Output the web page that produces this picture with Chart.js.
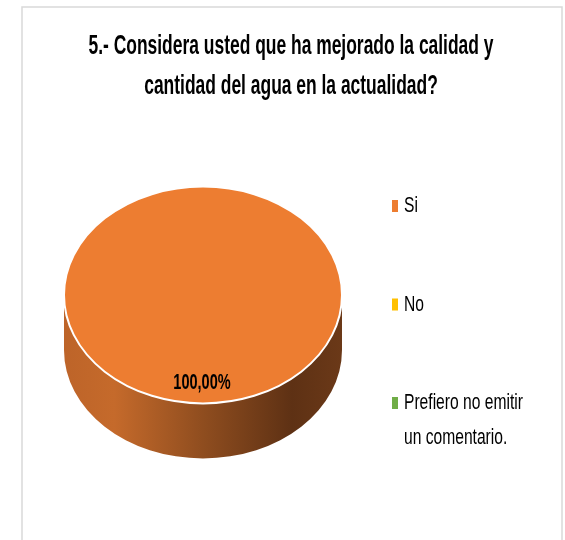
<!DOCTYPE html>
<html>
<head>
<meta charset="utf-8">
<script src="https://cdn.jsdelivr.net/npm/chart.js@4.4.1/dist/chart.umd.min.js"></script>
<style>
  html, body { margin: 0; padding: 0; background: #fff; }
  #wrap { width: 565px; height: 540px; }
</style>
</head>
<body>
<div id="wrap"><canvas id="pieChart" width="565" height="540"></canvas></div>
<script>
// data
const titleLines = ['5.- Considera usted que ha mejorado la calidad y', 'cantidad del agua en la actualidad?'];
const categories = ['Si', 'No', 'Prefiero no emitir un comentario.'];
const percentages = [100, 0, 0];
const sliceColors = ['#ED7D31', '#FFC000', '#70AD47'];

const tilt = 0.78;     // vertical squash of the pie (3d look)
const depth = 55;      // height of the pie side
const squeeze = 0.74;  // text in the picture is narrow
const narrowFont = '"Liberation Sans Narrow", "Liberation Sans", sans-serif';

function narrowText(ctx, text, x, y, font, align, sq) {
    sq = sq || squeeze;
    ctx.save();
    ctx.font = font;
    ctx.textBaseline = 'middle';
    ctx.textAlign = 'left';
    const w = ctx.measureText(text).width * sq;
    let x0 = x;
    if (align === 'center') x0 = x - w / 2;
    ctx.translate(x0, y);
    ctx.scale(sq, 1);
    ctx.fillText(text, 0, 0);
    ctx.restore();
    return w;
}

// frame + title
const framePlugin = {
    id: 'frame',
    beforeDraw(chart) {
        const ctx = chart.ctx;
        ctx.save();
        ctx.strokeStyle = '#d9d9d9';
        ctx.lineWidth = 1.5;
        ctx.strokeRect(22, 7, 540, 545);
        ctx.fillStyle = '#000';
        const font = 'bold 28px ' + narrowFont;
        ctx.font = font;
        // first line is about 405px wide in the picture
        const sq = 405 / ctx.measureText(titleLines[0]).width;
        titleLines.forEach((line, i) => {
            narrowText(ctx, line, 291, 46 + i * 40, font, 'center', sq);
        });
        ctx.restore();
    }
};

// side of the pie + squash of the top face
const pie3d = {
    id: 'pie3d',
    beforeDatasetsDraw(chart) {
        const ctx = chart.ctx;
        const arc = chart.getDatasetMeta(0).data[0];
        const cx = arc.x, cy = arc.y, rx = arc.outerRadius, ry = arc.outerRadius * tilt;
        ctx.save();
        const grad = ctx.createLinearGradient(cx - rx, 0, cx + rx, 0);
        grad.addColorStop(0, '#bd6429');
        grad.addColorStop(0.18, '#c56a2b');
        grad.addColorStop(0.5, '#8f4d1f');
        grad.addColorStop(0.82, '#5e3114');
        grad.addColorStop(1, '#6b3918');
        ctx.beginPath();
        ctx.moveTo(cx + rx, cy);
        ctx.lineTo(cx + rx, cy + depth);
        ctx.ellipse(cx, cy + depth, rx, ry, 0, 0, Math.PI, false);
        ctx.lineTo(cx - rx, cy);
        ctx.ellipse(cx, cy, rx, ry, 0, Math.PI, 0, true);
        ctx.closePath();
        ctx.fillStyle = grad;
        ctx.fill();
        ctx.restore();
        ctx.save();
        ctx.translate(0, cy);
        ctx.scale(1, tilt);
        ctx.translate(0, -cy);
    },
    afterDatasetsDraw(chart) {
        chart.ctx.restore();
        const ctx = chart.ctx;
        const meta = chart.getDatasetMeta(0);
        const first = meta.data[0];
        // white rim round the top face
        ctx.save();
        ctx.strokeStyle = '#ffffff';
        ctx.lineWidth = 2;
        ctx.beginPath();
        ctx.ellipse(first.x, first.y, first.outerRadius, first.outerRadius * tilt, 0, 0, Math.PI * 2);
        ctx.stroke();
        ctx.restore();
        const values = chart.data.datasets[0].data;
        const total = values.reduce((a, b) => a + b, 0);
        meta.data.forEach((arc, i) => {
            if (!values[i]) return;
            const mid = (arc.startAngle + arc.endAngle) / 2;
            const r = arc.outerRadius * 0.8;
            const x = arc.x + Math.cos(mid) * r;
            const y = arc.y + Math.sin(mid) * r * tilt;
            const txt = (values[i] / total * 100).toFixed(2).replace('.', ',') + '%';
            ctx.fillStyle = '#000';
            narrowText(ctx, txt, x - 1, y + 1, 'bold 22px ' + narrowFont, 'center', 0.66);
        });
    }
};

// legend on the right, long labels wrap
const sideLegend = {
    id: 'sideLegend',
    afterDraw(chart) {
        const ctx = chart.ctx;
        const font = '22px ' + narrowFont;
        const colors = chart.data.datasets[0].backgroundColor;
        chart.data.labels.forEach((label, i) => {
            const y = 206 + i * 98.5;
            ctx.fillStyle = colors[i];
            ctx.fillRect(392, y - 6, 6, 12);
            ctx.fillStyle = '#000';
            ctx.font = font;
            const words = label.split(' ');
            const lines = [];
            let cur = '';
            words.forEach(w => {
                const test = cur ? cur + ' ' + w : w;
                if (ctx.measureText(test).width * 0.71 > 130 && cur) {
                    lines.push(cur);
                    cur = w;
                } else {
                    cur = test;
                }
            });
            lines.push(cur);
            lines.forEach((ln, j) => narrowText(ctx, ln, 404, y + j * 35, font, 'left', 0.71));
        });
    }
};

new Chart(document.getElementById('pieChart'), {
    type: 'pie',
    data: {
        labels: categories,
        datasets: [{
            data: percentages,
            backgroundColor: sliceColors,
            borderWidth: 0
        }]
    },
    options: {
        responsive: false,
        animation: false,
        events: [],
        layout: { padding: { left: 64, right: 223, top: 156, bottom: 106 } },
        plugins: {
            legend: { display: false },
            title: { display: false },
            tooltip: { enabled: false }
        }
    },
    plugins: [framePlugin, pie3d, sideLegend]
});
</script>
</body>
</html>
